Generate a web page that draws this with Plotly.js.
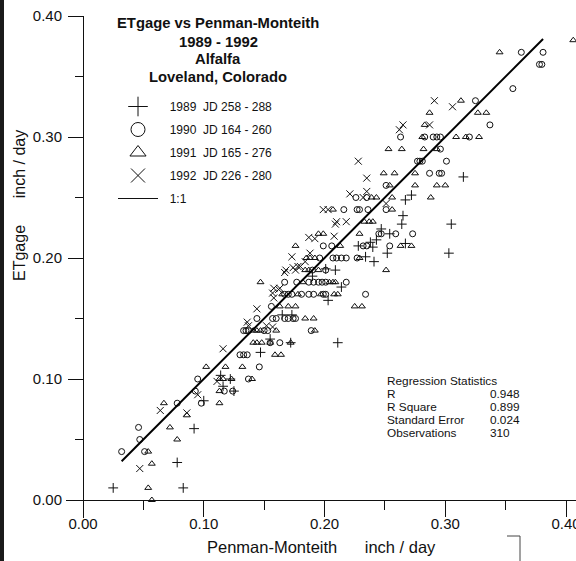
<!DOCTYPE html>
<html><head><meta charset="utf-8">
<script src="https://cdn.plot.ly/plotly-3.0.1.min.js"></script>
<style>html,body{margin:0;padding:0;background:#fff}#chart{width:576px;height:561px}</style>
</head><body><div id="chart"></div>
<script>
// ---- data ----
const x1989=[0.025,0.083,0.078,0.092,0.100,0.116,0.125,0.114,0.122,0.147,0.155,0.172,0.211,0.165,0.173,0.203,0.214,0.190,0.201,0.209,0.234,0.241,0.252,0.303,0.228,0.238,0.240,0.267,0.243,0.247,0.254,0.264,0.305,0.265,0.267,0.272,0.315];
const y1989=[0.010,0.010,0.031,0.059,0.082,0.094,0.090,0.103,0.100,0.122,0.133,0.130,0.130,0.153,0.153,0.165,0.176,0.185,0.191,0.190,0.201,0.197,0.204,0.204,0.210,0.213,0.209,0.212,0.215,0.224,0.220,0.228,0.228,0.235,0.248,0.252,0.267];

const x1990=[0.032,0.051,0.047,0.046,0.078,0.098,0.093,0.117,0.124,0.095,0.137,0.146,
0.130,0.133,0.136,
0.155,0.163,
0.133,0.135,0.137,0.150,0.153,0.189,
0.144,0.157,0.160,0.167,0.170,0.174,0.176,
0.156,
0.167,0.170,0.173,0.181,0.187,0.191,0.199,0.201,0.234,
0.167,0.177,0.187,0.191,0.195,0.198,0.201,0.218,
0.190,0.201,
0.196,0.207,0.210,0.214,0.218,0.227,
0.199,0.206,0.232,0.235,0.254,
0.245,0.247,0.259,0.273,
0.216,0.227,0.229,0.236,0.251,
0.226,0.235,
0.251,
0.287,0.295,0.297,
0.277,0.279,0.281,0.301,
0.296,
0.263,0.283,0.290,0.293,0.296,0.320,
0.337,0.325,0.356,0.378,0.380,0.363,0.381];
const y1990=[0.04,0.04,0.05,0.06,0.08,0.08,0.09,0.09,0.09,0.10,0.10,0.11,
0.12,0.12,0.12,
0.13,0.13,
0.14,0.14,0.14,0.14,0.14,0.14,
0.15,0.15,0.15,0.15,0.15,0.15,0.15,
0.16,
0.17,0.17,0.17,0.17,0.17,0.17,0.17,0.17,0.17,
0.18,0.18,0.18,0.18,0.18,0.18,0.18,0.18,
0.19,0.19,
0.20,0.20,0.20,0.20,0.20,0.20,
0.21,0.21,0.21,0.21,0.21,
0.22,0.22,0.22,0.22,
0.24,0.24,0.24,0.24,0.24,
0.25,0.25,
0.26,
0.27,0.27,0.27,
0.28,0.28,0.28,0.28,
0.29,
0.30,0.30,0.30,0.30,0.30,0.30,
0.31,0.33,0.34,0.36,0.36,0.37,0.37];

const x1991=[0.057,0.054,0.057,0.054,0.078,0.072,0.086,0.067,0.113,0.113,
0.113,0.116,0.123,0.140,
0.102,0.118,0.132,
0.159,0.164,
0.141,0.144,0.148,0.155,0.172,
0.141,0.144,0.147,0.160,0.192,
0.184,0.191,
0.163,0.170,0.176,0.225,0.231,
0.165,0.178,0.197,0.208,0.211,
0.147,0.182,0.204,0.207,0.209,
0.184,0.187,0.195,0.251,
0.185,0.188,0.192,0.229,
0.176,0.213,0.263,0.272,
0.195,0.199,0.229,
0.233,0.237,0.240,
0.207,0.256,
0.239,0.243,0.256,0.288,
0.254,0.275,0.293,0.300,
0.249,0.258,0.275,
0.253,0.264,0.282,0.293,
0.281,0.309,0.317,0.328,
0.283,
0.287,0.327,0.334,
0.313,0.345,0.406];
const y1991=[0.00,0.01,0.03,0.04,0.05,0.06,0.07,0.08,0.08,0.09,
0.10,0.10,0.10,0.10,
0.11,0.11,0.11,
0.12,0.12,
0.13,0.13,0.13,0.13,0.13,
0.14,0.14,0.14,0.14,0.14,
0.15,0.15,
0.16,0.16,0.16,0.16,0.16,
0.17,0.17,0.17,0.17,0.17,
0.18,0.18,0.18,0.18,0.18,
0.19,0.19,0.19,0.19,
0.20,0.20,0.20,0.20,
0.21,0.21,0.21,0.21,
0.22,0.22,0.22,
0.23,0.23,0.23,
0.24,0.24,
0.25,0.25,0.25,0.25,
0.26,0.26,0.26,0.26,
0.27,0.27,0.27,
0.29,0.29,0.29,0.29,
0.30,0.30,0.30,0.30,
0.31,
0.32,0.32,0.32,
0.33,0.37,0.38];

const x1992=[0.047,0.064,0.086,0.095,0.111,0.116,0.136,0.137,0.152,0.157,0.144,0.158,0.157,0.162,0.158,0.163,0.167,0.168,0.174,0.176,0.178,0.180,0.184,0.188,0.173,0.187,0.192,0.208,0.210,0.209,0.218,0.199,0.203,0.221,0.232,0.235,0.251,0.235,0.228,0.262,0.265,0.287,0.291,0.306];
const y1992=[0.026,0.074,0.072,0.087,0.098,0.125,0.147,0.144,0.144,0.143,0.158,0.167,0.171,0.174,0.175,0.175,0.188,0.190,0.192,0.190,0.193,0.193,0.197,0.204,0.201,0.217,0.216,0.218,0.230,0.228,0.230,0.240,0.240,0.253,0.250,0.255,0.245,0.266,0.280,0.306,0.310,0.310,0.330,0.325];

const oneToOne=[0.032,0.381];

const seriesNames=['1989\u00a0\u00a0JD 258 - 288','1990\u00a0\u00a0JD 164 - 260','1991\u00a0\u00a0JD 165 - 276','1992\u00a0\u00a0JD 226 - 280','1:1'];
const titleLines=['ETgage vs Penman-Monteith','1989 - 1992','Alfalfa','Loveland, Colorado'];
const statLabels=['R','R Square','Standard Error','Observations'];
const statValues=['0.948','0.899','0.024','310'];
const xTicks=[0,0.1,0.2,0.3,0.4];
const yTicks=[0,0.1,0.2,0.3,0.4];

// ---- geometry helpers ----
const W=576,H=561,L=66,R=0,T=16,B=43;
const pw=W-L-R, ph=H-T-B;
const PX=p=>(p-L)/pw, PY=p=>(H-B-p)/ph;
const FONT='"Liberation Sans", Arial, Helvetica, sans-serif';
const INK='#111';

function markerTrace(x,y,symbol,size){
  return {type:'scatter',mode:'markers',x:x,y:y,showlegend:false,hoverinfo:'skip',
    marker:{symbol:symbol,size:size,color:INK,line:{color:INK,width:1}}};
}
function legendTrace(name,symbol,group){
  return {type:'scatter',mode:'markers',x:[null],y:[null],name:name,legendgroup:group,
    marker:{symbol:symbol,size:14,color:INK,line:{color:INK,width:1}}};
}
const pad='\u00a0\u00a0';
const data=[
  markerTrace(x1989,y1989,'cross-thin-open',7),
  markerTrace(x1990,y1990,'circle-open',6),
  markerTrace(x1991,y1991,'triangle-up-open',6),
  markerTrace(x1992,y1992,'x-thin-open',7),
  {type:'scatter',mode:'lines',x:oneToOne,y:oneToOne,showlegend:false,hoverinfo:'skip',line:{color:'#000',width:2}},
  legendTrace(pad+seriesNames[0],'cross-thin-open','a'),
  legendTrace(pad+seriesNames[1],'circle-open','b'),
  legendTrace(pad+seriesNames[2],'triangle-up-open','c'),
  legendTrace(pad+seriesNames[3],'x-thin-open','d'),
  {type:'scatter',mode:'lines',x:[null],y:[null],name:pad+seriesNames[4],legendgroup:'e',line:{color:INK,width:1}}
];

const ann=[];
const tY=[23,42,59,77];
titleLines.forEach((t,i)=>ann.push({xref:'paper',yref:'paper',x:PX(218),y:PY(tY[i]),xanchor:'center',yanchor:'middle',showarrow:false,
  text:'<b>'+t+'</b>',font:{family:FONT,size:14.8,color:INK}}));
ann.push({xref:'paper',yref:'paper',x:PX(385),y:PY(381),xanchor:'left',yanchor:'middle',showarrow:false,text:'Regression Statistics',font:{family:FONT,size:11.8,color:INK}});
const sY=[394,407,420,433];
statLabels.forEach((t,i)=>{
  ann.push({xref:'paper',yref:'paper',x:PX(385),y:PY(sY[i]),xanchor:'left',yanchor:'middle',showarrow:false,text:t,font:{family:FONT,size:11.8,color:INK}});
  ann.push({xref:'paper',yref:'paper',x:PX(488),y:PY(sY[i]),xanchor:'left',yanchor:'middle',showarrow:false,text:statValues[i],font:{family:FONT,size:11.8,color:INK}});
});
const gap='\u00a0\u00a0\u00a0\u00a0\u00a0\u00a0';
ann.push({xref:'paper',yref:'paper',x:PX(321),y:PY(547),xanchor:'center',yanchor:'middle',showarrow:false,text:'Penman-Monteith'+gap+'inch / day',font:{family:FONT,size:16.5,color:INK}});
ann.push({xref:'paper',yref:'paper',x:PX(19),y:PY(206),xanchor:'center',yanchor:'middle',showarrow:false,textangle:-90,text:'ETgage'+gap+'inch / day',font:{family:FONT,size:16,color:INK}});

const shapes=[
  {type:'rect',xref:'paper',yref:'paper',x0:PX(0),x1:PX(4),y0:PY(0),y1:PY(561),fillcolor:'#1a1a1a',line:{width:0},layer:'above'},
  {type:'line',xref:'paper',yref:'paper',x0:PX(507),x1:PX(520),y0:PY(536),y1:PY(536),line:{color:'#444',width:1}},
  {type:'line',xref:'paper',yref:'paper',x0:PX(520),x1:PX(520),y0:PY(536),y1:PY(561),line:{color:'#444',width:1}}
];

const axisCommon={showgrid:false,zeroline:false,showline:true,linecolor:INK,linewidth:1,ticks:'outside',tickcolor:INK,tickwidth:1,
  tickformat:'.2f',tickfont:{family:FONT,size:15,color:INK},ticklabeloverflow:'allow',automargin:false};
const layout={
  width:W,height:H,margin:{l:L,r:R,t:T,b:B,pad:0,autoexpand:false},paper_bgcolor:'#fff',plot_bgcolor:'#fff',showlegend:true,
  xaxis:Object.assign({},axisCommon,{range:[-(83-L)/1207.5,(W-83)/1207.5],tickvals:xTicks,ticklen:16,ticklabelstandoff:-6,
    minor:{dtick:0.05,tick0:0,ticks:'outside',ticklen:9,tickcolor:INK,tickwidth:1,showgrid:false},
    anchor:'free',position:(518-500)/ph}),
  yaxis:Object.assign({},axisCommon,{range:[-18/1210,0.40],tickvals:yTicks,ticklen:15,ticklabelstandoff:3,
    minor:{dtick:0.05,tick0:0,ticks:'outside',ticklen:8,tickcolor:INK,tickwidth:1,showgrid:false},
    anchor:'free',position:(83-L)/pw}),
  legend:{xref:'container',yref:'container',x:113/W,y:1-92/H,xanchor:'left',yanchor:'top',bgcolor:'rgba(0,0,0,0)',borderwidth:0,
    font:{family:FONT,size:12,color:INK},itemwidth:40,tracegroupgap:4,traceorder:'grouped'},
  annotations:ann,shapes:shapes
};
Plotly.newPlot('chart',data,layout,{displayModeBar:false,staticPlot:true});
</script></body></html>
